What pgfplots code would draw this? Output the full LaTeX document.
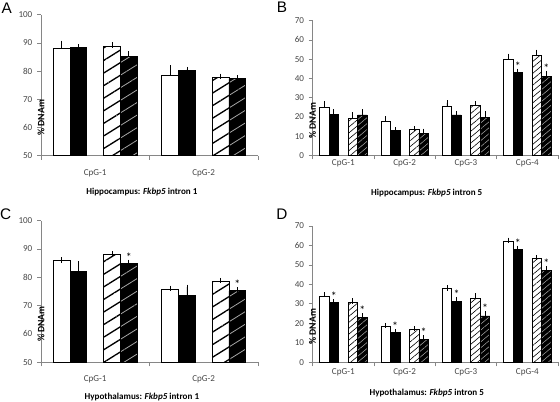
\documentclass[border=0pt]{standalone}
\usepackage{fontspec}
\setmainfont{Carlito}
\newfontfamily\letterfont{Liberation Sans}
\usepackage{pgfplots}
\pgfplotsset{compat=1.18}
\usetikzlibrary{patterns.meta}
\definecolor{axgray}{RGB}{134,134,134}
\definecolor{lblgray}{RGB}{70,70,70}
\newcommand{\fs}{\fontsize{6.8}{7.5}\selectfont}
\pgfplotsset{
  panel/.style={
    scale only axis,
    ybar,
    enlargelimits=false,
    clip=false,
    axis x line*=bottom, axis y line*=left,
    axis line style={draw=axgray, line width=0.6pt},
    tick style={draw=axgray, line width=0.6pt},
    major tick length=3pt,
    tick align=outside,
    /pgf/number format/assume math mode=true,
    tick label style={font=\fs, text=lblgray},
    xticklabels={{},{},{},{},{}},
    bar width=0.155,
    ylabel={\textbf{\% DNAm}},
    ylabel style={font=\fontsize{7.3}{8}\selectfont, at={(axis description cs:0,0.5)}, anchor=center, xshift=-24.5pt},
    xlabel style={font=\fs, at={(axis description cs:0.465,0)}, anchor=center},
    error bars/y dir=plus,
    error bars/y explicit,
    error bars/error mark=-,
    error bars/error mark options={black, mark size=2pt, line width=0.6pt},
    error bars/error bar style={black, line width=0.6pt},
  },
  wbar/.style={draw=black, fill=white, line width=0.6pt, bar shift=-0.31},
  bbar/.style={draw=black, fill=black, line width=0.6pt, bar shift=-0.155},
  hwA/.style={draw=black, fill=white, line width=0.6pt, bar shift=0.155,
     postaction={pattern={Lines[angle=32,distance=8pt,line width=1pt]}, pattern color=black}},
  hbA/.style={draw=black, fill=black, line width=0.6pt, bar shift=0.31,
     postaction={pattern={Lines[angle=32,distance=8pt,line width=0.6pt]}, pattern color=gray!70}},
  hwB/.style={draw=black, fill=white, line width=0.6pt, bar shift=0.155,
     postaction={pattern={Lines[angle=40,distance=3.4pt,line width=0.45pt]}, pattern color=black}},
  hbB/.style={draw=black, fill=black, line width=0.6pt, bar shift=0.31,
     postaction={pattern={Lines[angle=40,distance=3.4pt,line width=0.4pt]}, pattern color=gray!70}},
  stars/.style={sharp plot, draw=none, mark=none, nodes near coords={*},
     every node near coord/.style={font=\fontsize{9}{9}\selectfont, text=black, anchor=south, inner sep=0.5pt}},
}
\begin{document}
\begin{tikzpicture}
\path[use as bounding box] (0,0) rectangle (420pt,301.5pt);
\node[font=\letterfont\fontsize{11.5}{12}\selectfont] at (5pt,295.5pt) {A};
\node[font=\letterfont\fontsize{11.5}{12}\selectfont] at (211.5pt,296pt) {B};
\node[font=\letterfont\fontsize{11.5}{12}\selectfont] at (4.2pt,141pt) {C};
\node[font=\letterfont\fontsize{11.5}{12}\selectfont] at (211.5pt,141pt) {D};

% ---------- A ----------
\begin{axis}[panel, at={(30.75pt,184.7pt)}, anchor=south west,
  width=162.75pt, height=105.75pt,
  xmin=0.5, xmax=2.5, ymin=50, ymax=100, ytick={50,60,...,100},
  xtick={0.5,1.5,2.5},
  extra x ticks={1,2}, extra x tick labels={CpG-1,CpG-2},
  extra x tick style={major tick length=0pt, tick label style={anchor=center, yshift=-13.2pt}},
  xlabel={\textbf{Hippocampus: \textit{Fkbp5} intron 1}},
  xlabel style={yshift=-27.2pt}]
\addplot[wbar] coordinates {(1,88.2) +- (0,1.7) (2,78.5) +- (0,2.6)};
\addplot[bbar] coordinates {(1,88.4) +- (0,0.1) (2,80.4) +- (0,0.2)};
\addplot[hwA] coordinates {(1,88.8) +- (0,0.5) (2,77.7) +- (0,0.5)};
\addplot[hbA] coordinates {(1,85.3) +- (0,0.8) (2,77.3) +- (0,0.3)};
\end{axis}

% ---------- B ----------
\begin{axis}[panel, at={(234.5pt,185pt)}, anchor=south west,
  width=184pt, height=100.95pt,
  xmin=0.5, xmax=4.5, ymin=0, ymax=70, ytick={0,10,...,70},
  xtick={0.5,1.5,2.5,3.5,4.5},
  extra x ticks={1,2,3,4}, extra x tick labels={CpG-1,CpG-2,CpG-3,CpG-4},
  extra x tick style={major tick length=0pt, tick label style={anchor=center, yshift=-6pt}},
  xlabel={\textbf{Hippocampus: \textit{Fkbp5} intron 5}},
  xlabel style={yshift=-28pt}]
\addplot[wbar] coordinates {(1,25.0) +- (0,1.8) (2,17.5) +- (0,1.5) (3,25.3) +- (0,2.0) (4,50.0) +- (0,1.5)};
\addplot[bbar] coordinates {(1,21.3) +- (0,1.2) (2,13.0) +- (0,0.1) (3,21.0) +- (0,0.7) (4,43.0) +- (0,0.7)};
\addplot[hwB] coordinates {(1,19.0) +- (0,2.0) (2,13.5) +- (0,0.3) (3,25.8) +- (0,1.0) (4,51.8) +- (0,1.8)};
\addplot[hbB] coordinates {(1,21.0) +- (0,1.5) (2,11.5) +- (0,1.0) (3,19.5) +- (0,2.2) (4,41.0) +- (0,1.5)};
\addplot[stars] coordinates {(3.845,43.7) (4.31,42.5)};
\end{axis}

% ---------- C ----------
\begin{axis}[panel, at={(30.75pt,29.8pt)}, anchor=south west,
  width=162.75pt, height=106.2pt,
  xmin=0.5, xmax=2.5, ymin=50, ymax=100, ytick={50,60,...,100},
  xtick={0.5,1.5,2.5},
  extra x ticks={1,2}, extra x tick labels={CpG-1,CpG-2},
  extra x tick style={major tick length=0pt, tick label style={anchor=center, yshift=-12.5pt}},
  xlabel={\textbf{Hypothalamus: \textit{Fkbp5} intron 1}},
  xlabel style={yshift=-25.8pt}]
\addplot[wbar] coordinates {(1,85.9) +- (0,0.2) (2,75.6) +- (0,0.5)};
\addplot[bbar] coordinates {(1,82.0) +- (0,2.7) (2,73.5) +- (0,3.0)};
\addplot[hwA] coordinates {(1,88.0) +- (0,0.2) (2,78.6) +- (0,0.3)};
\addplot[hbA] coordinates {(1,84.8) +- (0,0.5) (2,75.2) +- (0,0.4)};
\addplot[stars] coordinates {(1.31,85.3) (2.31,75.6)};
\end{axis}

% ---------- D ----------
\begin{axis}[panel, at={(234.5pt,29.8pt)}, anchor=south west,
  width=184pt, height=102.2pt,
  xmin=0.5, xmax=4.5, ymin=0, ymax=70, ytick={0,10,...,70},
  xtick={0.5,1.5,2.5,3.5,4.5},
  extra x ticks={1,2,3,4}, extra x tick labels={CpG-1,CpG-2,CpG-3,CpG-4},
  extra x tick style={major tick length=0pt, tick label style={anchor=center, yshift=-7.3pt}},
  xlabel={\textbf{Hypothalamus: \textit{Fkbp5} intron 5}},
  xlabel style={yshift=-22.8pt}]
\addplot[wbar] coordinates {(1,34.0) +- (0,0.7) (2,18.6) +- (0,0.2) (3,37.8) +- (0,0.3) (4,62.0) +- (0,0.7)};
\addplot[bbar] coordinates {(1,30.8) +- (0,0.3) (2,15.5) +- (0,0.1) (3,31.2) +- (0,1.0) (4,57.8) +- (0,0.7)};
\addplot[hwB] coordinates {(1,30.7) +- (0,0.8) (2,17.0) +- (0,0.2) (3,32.7) +- (0,1.5) (4,53.5) +- (0,0.3)};
\addplot[hbB] coordinates {(1,23.0) +- (0,0.8) (2,11.7) +- (0,0.8) (3,23.8) +- (0,1.2) (4,47.3) +- (0,0.8)};
\addplot[stars] coordinates {(0.845,31.1) (1.31,23.8) (1.845,15.6) (2.31,12.5) (2.845,32.2) (3.31,25.0) (3.845,58.5) (4.31,48.1)};
\end{axis}
\end{tikzpicture}
\end{document}
